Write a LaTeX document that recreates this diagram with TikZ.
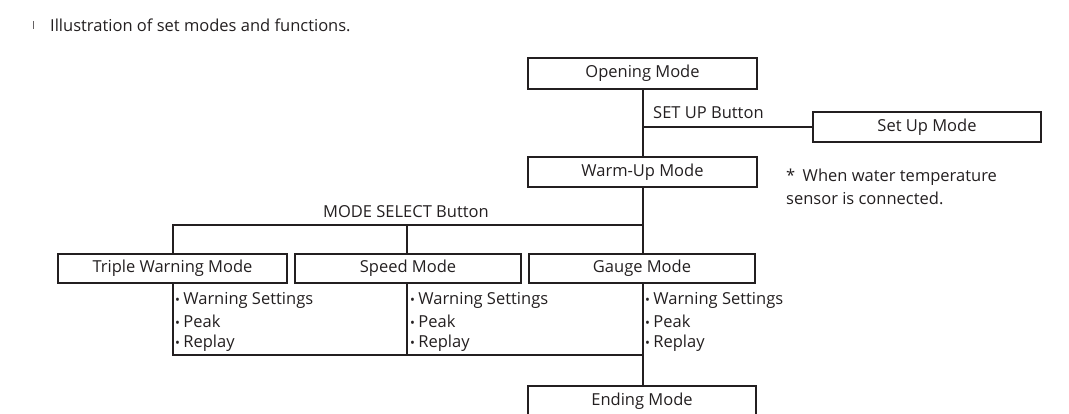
\documentclass[tikz,border=0pt]{standalone}
\usepackage{fontspec}
\setmainfont{Open Sans}
\definecolor{ink}{HTML}{231F20}
\definecolor{txt}{HTML}{231F20}
\newcommand{\dfont}{\fontsize{16.5}{18}\selectfont}
\newcommand{\bul}{{\fontsize{13}{13}\selectfont•}\hspace{0.2em}}
\begin{document}
\begin{tikzpicture}[x=1pt,y=-1pt,
  modebox/.style={draw=ink,line width=1.9pt,minimum height=#1,inner sep=0pt,text=txt,font=\dfont},
  conn/.style={draw=ink,line width=1.5pt},
  lbl/.style={inner sep=0pt,text=txt,font=\dfont},
  itm/.style={inner sep=0pt,anchor=west,text=txt,font=\dfont}]
\useasboundingbox (0,0) rectangle (1069,414);
\begin{scope}
\clip (0,0) rectangle (1069,414);
% header
\draw[line width=1pt,ink!70] (33,21) -- (33,29);
\node[lbl,anchor=west,font=\fontsize{16.5}{18}\selectfont] (hdr) at (50,25) {Illustration of set modes and functions.};
% boxes
\node[modebox=31pt,minimum width=229pt] (open) at (642.5,73.5) {Opening Mode};
\node[modebox=30pt,minimum width=228pt] (setup) at (927,127) {Set Up Mode};
\node[modebox=30pt,minimum width=229pt] (warm) at (642.5,172) {Warm-Up Mode};
\node[modebox=29pt,minimum width=229pt] (triple) at (172.5,268.5) {Triple Warning Mode};
\node[modebox=29pt,minimum width=226pt] (speed) at (408,268.5) {Speed Mode};
\node[modebox=29pt,minimum width=226pt] (gauge) at (642,268.5) {Gauge Mode};
\node[modebox=30pt,minimum width=228pt] (ending) at (642,401) {Ending Mode};
% labels
\node[lbl,anchor=west] (setlbl) at (653,113) {SET UP Button};
\node[lbl] (mslbl) at (406,212) {MODE SELECT Button};
\node[lbl,anchor=west] (note1) at (786,177) {*\hspace{0.45em}When water temperature};
\node[lbl,anchor=west] (note2) at (786,198) {sensor is connected.};
% connectors
\coordinate (su) at (643,127);
\draw[conn] (open.south -| su) -- (warm.north -| su);
\draw[conn] (su) -- (setup.west);
\coordinate (msR) at (643,225);
\coordinate (msL) at (173,225);
\coordinate (msM) at (407,225);
\draw[conn] (warm.south -| msR) -- (msR) -- (msL) -- (triple.north -| msL);
\draw[conn] (msM) -- (speed.north -| msM);
\draw[conn] (msR) -- (gauge.north -| msR);
\coordinate (bL) at (173,355);
\coordinate (bM) at (407,355);
\coordinate (bR) at (643,355);
\draw[conn] (triple.south -| bL) -- (bL) -- (bR);
\draw[conn] (speed.south -| bM) -- (bM);
\draw[conn] (gauge.south -| bR) -- (ending.north -| bR);
% bullet lists
\foreach \px/\nm in {175/a,410/b,645/c}{
  \node[itm] (\nm1) at (\px,300) {\bul Warning Settings};
  \node[itm] (\nm2) at (\px,321.5) {\bul Peak};
  \node[itm] (\nm3) at (\px,343) {\bul Replay};
}
\end{scope}
\end{tikzpicture}
\end{document}
